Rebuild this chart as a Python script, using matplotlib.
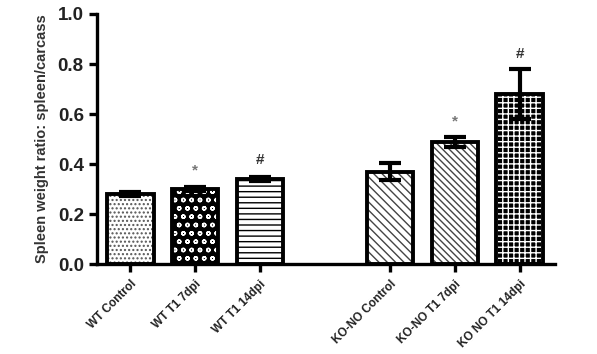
import matplotlib
matplotlib.use("Agg")
import matplotlib.pyplot as plt
import numpy as np

plt.rcParams['font.family'] = ['Liberation Sans', 'DejaVu Sans']

categories = ["WT Control", "WT T1 7dpi", "WT T1 14dpi",
              "KO-NO Control", "KO-NO T1 7dpi", "KO NO T1 14dpi"]
positions = [0, 1, 2, 4, 5, 6]
values = [0.28, 0.30, 0.34, 0.37, 0.49, 0.68]
errors = [0.008, 0.008, 0.008, 0.035, 0.02, 0.10]
marks = ["", "*", "#", "", "*", "#"]
mark_y = [0, 0.375, 0.415, 0, 0.57, 0.84]

faces = ["white", "black", "white", "white", "white", "black"]
hatch_colors = ["#555555", "white", "black", "#444444", "#444444", "white"]
hatches = ["....", "oo", "---", "\\\\\\\\", "\\\\\\\\\\", "+++"]

fig = plt.figure(figsize=(5.97, 3.54), dpi=100)
ax = fig.add_axes([0.1625, 0.254, 0.767, 0.7065])

w = 0.72
for x, v, fc, hc, h in zip(positions, values, faces, hatch_colors, hatches):
    ax.bar(x, v, width=w, facecolor=fc, edgecolor=hc, hatch=h, linewidth=0, zorder=2)
    ax.bar(x, v, width=w, fill=False, edgecolor="black", linewidth=2.8, zorder=3)

ax.errorbar(positions, values, yerr=errors, fmt="none", ecolor="black",
            elinewidth=3, capsize=8, capthick=3, zorder=4)

for x, m, my in zip(positions, marks, mark_y):
    if m:
        col = "#777777" if m == "*" else "#333333"
        ax.text(x, my, m, ha="center", va="center", fontsize=11,
                fontweight="bold", color=col, zorder=5)

ax.set_xlim(-0.51, 6.54)
ax.set_ylim(0, 1.0)
ax.set_yticks([0.0, 0.2, 0.4, 0.6, 0.8, 1.0])
ax.set_yticklabels(["0.0", "0.2", "0.4", "0.6", "0.8", "1.0"], fontsize=13.5,
                   fontweight="bold", color="#222222")
ax.set_xticks(positions)
ax.set_xticklabels(categories, rotation=45, ha="right", rotation_mode="anchor",
                   fontsize=8.5, fontweight="bold", color="#222222")
ax.set_ylabel("Spleen weight ratio: spleen/carcass", fontsize=10.5,
              fontweight="bold", color="#333333", labelpad=6)

for s in ["top", "right"]:
    ax.spines[s].set_visible(False)
for s in ["left", "bottom"]:
    ax.spines[s].set_linewidth(2.4)
ax.tick_params(axis="both", direction="out", width=2.4, length=6)
ax.tick_params(axis="x", pad=4)

fig.savefig("out.png", dpi=100)
